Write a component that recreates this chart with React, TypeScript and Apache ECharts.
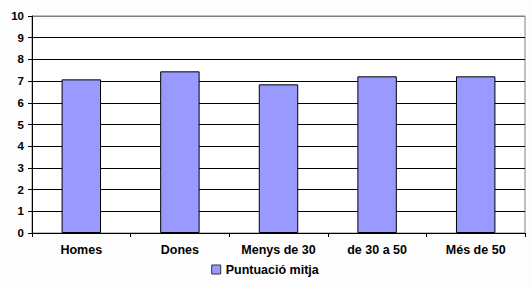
import React, { useEffect, useRef } from "react";
import * as echarts from "echarts";

const categories = ["Homes", "Dones", "Menys de 30", "de 30 a 50", "Més de 50"];
const values = [7.08, 7.45, 6.85, 7.22, 7.22];
const seriesName = "Puntuació mitja";

export default function App() {
  const ref = useRef<HTMLDivElement>(null);
  useEffect(() => {
    const chart = echarts.init(ref.current!, null, { renderer: "svg" });
    const font = "Arial, 'Liberation Sans', sans-serif";
    const splitColors = Array.from({ length: 11 }, (_, i) => (i === 10 ? "#808080" : "#000000"));
    chart.setOption({
      animation: false,
      backgroundColor: "#fdfdfd",
      grid: {
        left: 32,
        right: 5,
        top: 16,
        bottom: 55,
        show: true,
        backgroundColor: "#ffffff",
        borderColor: "#808080",
        borderWidth: 1,
      },
      legend: {
        bottom: 7,
        left: "center",
        itemWidth: 9,
        itemHeight: 9,
        itemGap: 4,
        textStyle: { fontFamily: font, fontWeight: "bold", fontSize: 12.5, color: "#000" },
        data: [{ name: seriesName, icon: "rect", itemStyle: { borderColor: "#333", borderWidth: 1 } }],
      },
      xAxis: {
        type: "category",
        data: categories,
        axisLine: { lineStyle: { color: "#000", width: 1 } },
        axisTick: { show: true, length: 4, alignWithLabel: false, lineStyle: { color: "#000" } },
        axisLabel: { margin: 10, fontFamily: font, fontWeight: "bold", fontSize: 12.5, color: "#000" },
      },
      yAxis: {
        type: "value",
        min: 0,
        max: 10,
        interval: 1,
        axisLine: { show: true, lineStyle: { color: "#000", width: 1 } },
        axisTick: { show: true, length: 4, lineStyle: { color: "#000" } },
        axisLabel: { margin: 8, fontFamily: font, fontWeight: "bold", fontSize: 11.5, color: "#000" },
        splitLine: { show: true, lineStyle: { color: splitColors, width: 1 } },
      },
      series: [
        {
          name: seriesName,
          type: "bar",
          data: values,
          barWidth: "40%",
          itemStyle: { color: "#9999ff", borderColor: "#000", borderWidth: 1 },
        },
      ],
    });
    return () => chart.dispose();
  }, []);
  return <div ref={ref} style={{ position: "fixed", left: 0, top: 0, width: 530, height: 288 }} />;
}
